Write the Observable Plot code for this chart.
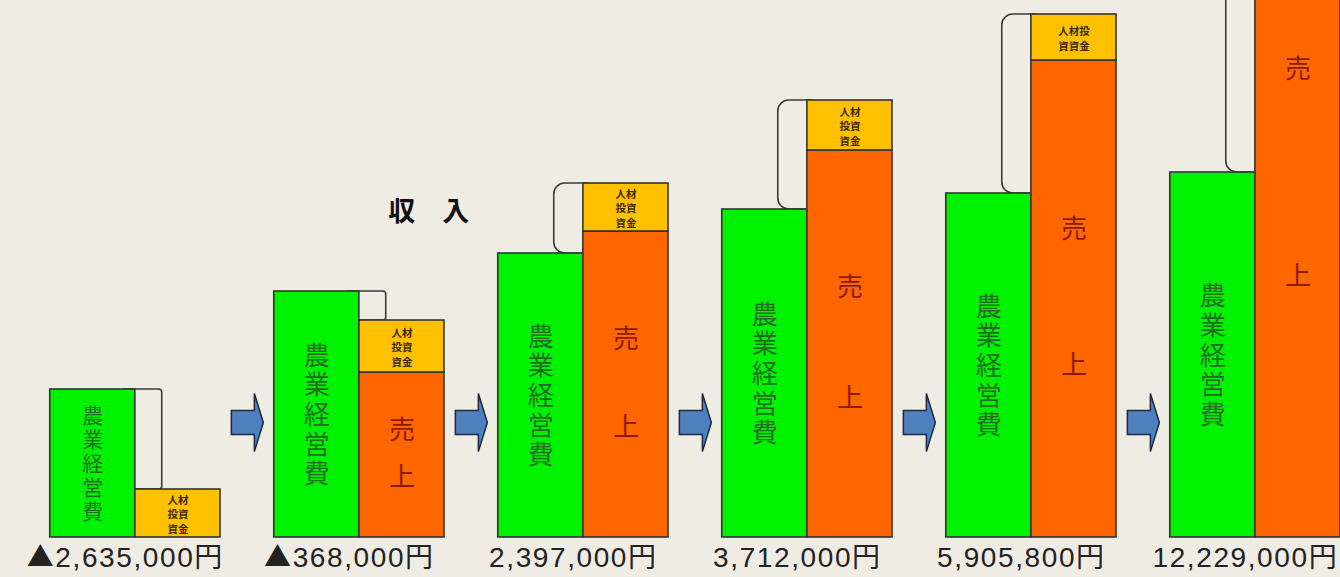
<!DOCTYPE html>
<html><head><meta charset="utf-8">
<script src="https://cdn.jsdelivr.net/npm/d3@7"></script>
<script src="https://cdn.jsdelivr.net/npm/@observablehq/plot@0.6"></script>
<style>
html,body{margin:0;padding:0;background:#EFECE4;overflow:hidden;}
</style></head><body><div id="chart"></div>
<script>
// Schematic stage heights (drawing units, not to scale with yen values)
const stages = [0, 1, 2, 3, 4, 5];
const farmCost = [148, 246, 284, 328, 344, 365];   // 農業経営費
const sales    = [0, 165, 306, 387, 477, 725];     // 売上
const subsidy  = [48, 52, 48, 50, 46, 48];         // 人材投資資金
const incomeLabels = ["▲2,635,000円", "▲368,000円", "2,397,000円", "3,712,000円", "5,905,800円", "12,229,000円"];
const subsidyText = ["人材\n投資\n資金", "人材\n投資\n資金", "人材\n投資\n資金", "人材\n投資\n資金", "人材投\n資資金", "人材\n投資\n資金"];
const costText = "農業経営費";
const salesChars = ["売", "上"];
const incomeNote = {text: "収　入", stage: 1.31, value: 325};
const arrowLevel = 115;

const yMax = 537;
const W = 0.38;
const green = stages.map(i => ({i, x1: i - W, x2: i, y1: 0, y2: farmCost[i]}));
const orange = stages.filter(i => sales[i] > 0).map(i => ({i, x1: i, x2: i + W, y1: 0, y2: sales[i]}));
const yellow = stages.map(i => ({i, x1: i, x2: i + W, y1: sales[i], y2: sales[i] + subsidy[i], t: subsidyText[i]}));
const brackets = stages.map(i => {
  const total = sales[i] + subsidy[i];
  const costHigher = farmCost[i] > total;
  return {i, costHigher,
    x1: costHigher ? i - 0.06 : i - 0.13,
    x2: costHigher ? i + 0.12 : i + 0.06,
    y1: Math.min(farmCost[i], total), y2: Math.max(farmCost[i], total)};
});
const arrows = stages.slice(0, -1).map(i => ({x: i + 0.5, y: arrowLevel}));

const arrowSymbol = {
  draw(ctx) {
    ctx.moveTo(-16, -12); ctx.lineTo(7, -12); ctx.lineTo(7, -29); ctx.lineTo(16, 0);
    ctx.lineTo(7, 29); ctx.lineTo(7, 12); ctx.lineTo(-16, 12); ctx.closePath();
  }
};

const cjk = "'Noto Sans CJK JP', sans-serif";
const stroke = "#333";
const inView = v => v > 8 && v < yMax - 8;

const chart = Plot.plot({
  width: 1340, height: 577,
  marginTop: 0, marginBottom: 40, marginLeft: 0, marginRight: 0,
  x: {type: "linear", domain: [-0.602, 5.380], axis: null},
  y: {domain: [0, yMax], axis: null},
  style: {background: "#EFECE4", fontFamily: "'Liberation Sans', 'Noto Sans CJK JP', sans-serif", overflow: "hidden"},
  marks: [
    Plot.rect(brackets.filter(d => d.costHigher), {x1: "x1", x2: "x2", y1: "y1", y2: "y2", fill: "none", stroke: "#3a3a3a", strokeWidth: 1.6, rx: 3}),
    Plot.rect(brackets.filter(d => !d.costHigher), {x1: "x1", x2: "x2", y1: "y1", y2: "y2", fill: "none", stroke: "#3a3a3a", strokeWidth: 1.6, rx: 11}),
    Plot.rect(green, {x1: "x1", x2: "x2", y1: "y1", y2: "y2", fill: "#00F200", stroke, strokeWidth: 1.6}),
    Plot.rect(orange, {x1: "x1", x2: "x2", y1: "y1", y2: "y2", fill: "#FF6600", stroke, strokeWidth: 1.6}),
    Plot.rect(yellow, {x1: "x1", x2: "x2", y1: "y1", y2: "y2", fill: "#FFC000", stroke, strokeWidth: 1.6}),
    Plot.text(green, {x: d => (d.x1 + d.x2) / 2, y: d => d.y2 / 2, text: () => costText.split("").join("\n"),
      fontSize: d => d.y2 < 200 ? 21 : 26, lineHeight: 1.14, fill: "#1f6e1f", fontFamily: cjk}),
    Plot.text(orange.filter(d => inView(d.y2 * 0.645)), {x: d => (d.x1 + d.x2) / 2, y: d => d.y2 * 0.645, text: () => salesChars[0], fontSize: 26, fill: "#8a1a0a", fontFamily: cjk}),
    Plot.text(orange, {x: d => (d.x1 + d.x2) / 2, y: d => d.y2 * 0.36, text: () => salesChars[1], fontSize: 26, fill: "#8a1a0a", fontFamily: cjk}),
    Plot.text(yellow.filter(d => inView((d.y1 + d.y2) / 2)), {x: d => (d.x1 + d.x2) / 2, y: d => (d.y1 + d.y2) / 2, text: "t", fontSize: 10.5, fontWeight: "bold", lineHeight: 1.4, fill: "#3a2800", fontFamily: cjk}),
    Plot.dot(arrows, {x: "x", y: "y", symbol: arrowSymbol, r: 10, fill: "#4F81BD", stroke: "#1c2a44", strokeWidth: 1.5}),
    Plot.text(stages, {x: i => i, y: () => 0, text: i => incomeLabels[i], dy: 21, dx: -10, fontSize: 28, fill: "#222"}),
    Plot.text([incomeNote], {x: "stage", y: "value", text: "text", fontSize: 27, fontWeight: "bold", fill: "#111", fontFamily: cjk})
  ]
});
d3.select(chart).selectAll("text").filter(function() { return incomeLabels.includes(this.textContent); }).each(function() {
  const t = d3.select(this);
  t.style("letter-spacing", "1.6px");
  const s = t.text();
  if (s.startsWith("▲")) {
    t.text(null);
    t.append("tspan").style("font-family", cjk).style("font-size", "27px").text("▲");
    t.append("tspan").text(s.slice(1));
  }
});
document.getElementById("chart").appendChild(chart);
</script></body></html>
